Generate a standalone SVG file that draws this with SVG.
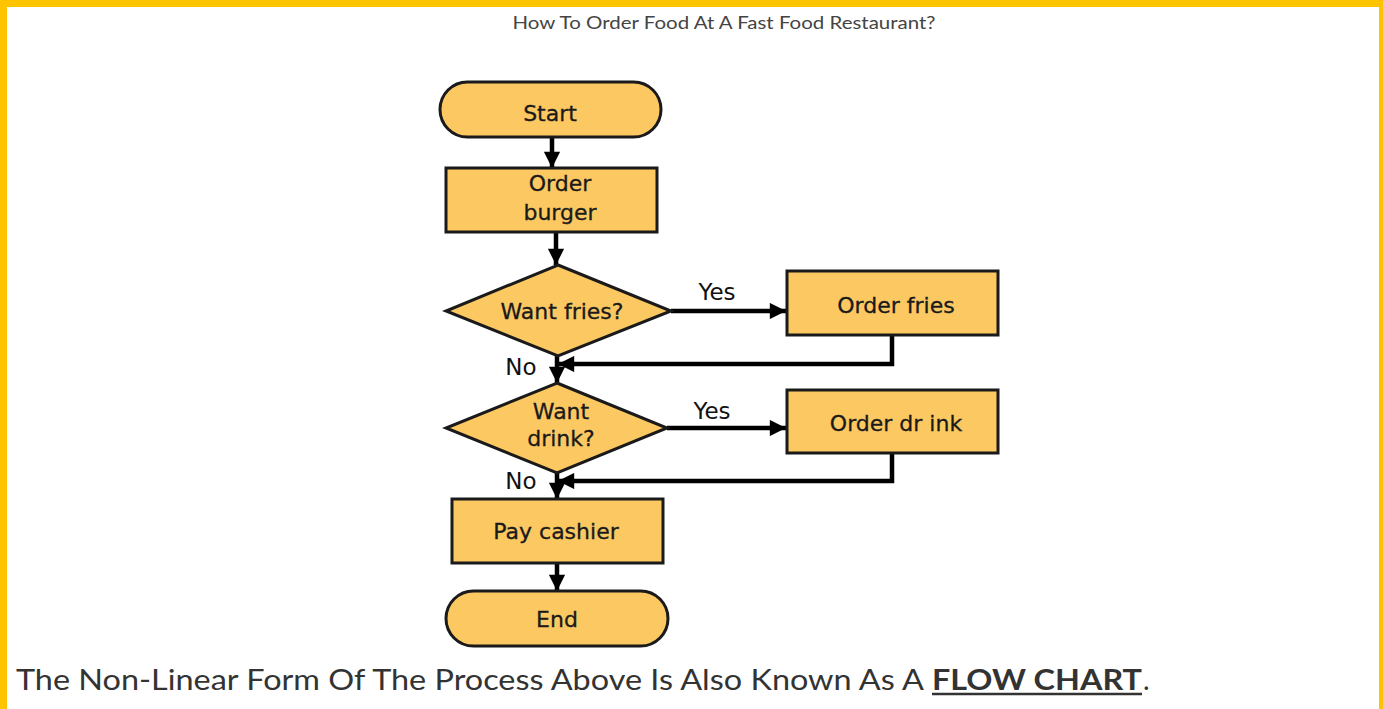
<svg xmlns="http://www.w3.org/2000/svg" width="1383" height="709" viewBox="0 0 1383 709">
<defs>
<style>
.n{fill:#FCC862;stroke:#1a1a1a;stroke-width:3}
.t{font-family:"DejaVu Sans",Verdana,sans-serif;font-size:22px;fill:#1a1a1a;text-anchor:middle;stroke:#1a1a1a;stroke-width:0.3}
.c{stroke:#000;stroke-width:4.5;fill:none}
.lbl{font-family:"DejaVu Sans",Verdana,sans-serif;font-size:23px;fill:#111}
</style>
<marker id="ah" viewBox="0 0 10 10" refX="10" refY="5" markerWidth="3.8" markerHeight="3.6" orient="auto" markerUnits="strokeWidth">
<path d="M0,0 L10,5 L0,10 Z" fill="#000"/>
</marker>
</defs>
<rect x="0" y="0" width="1383" height="709" fill="#fff"/>
<path d="M0,0 H1383 V709 H1379 V7 H7 V709 H0 Z" fill="#FFC400"/>
<text x="724" y="29" font-family="Lato,'Open Sans',sans-serif" font-size="18" fill="#444" text-anchor="middle" textLength="423" lengthAdjust="spacingAndGlyphs">How To Order Food At A Fast Food Restaurant?</text>

<g id="connectors">
<line class="c" x1="552" y1="137" x2="552" y2="168" marker-end="url(#ah)"/>
<line class="c" x1="556" y1="232" x2="556" y2="265" marker-end="url(#ah)"/>
<line class="c" x1="671" y1="311" x2="786" y2="311" marker-end="url(#ah)"/>
<polyline class="c" points="892,335 892,364 558,364" marker-end="url(#ah)"/>
<line class="c" x1="557" y1="356" x2="557" y2="383" marker-end="url(#ah)"/>
<line class="c" x1="667" y1="428" x2="786" y2="428" marker-end="url(#ah)"/>
<polyline class="c" points="892,453 892,481 558,481" marker-end="url(#ah)"/>
<line class="c" x1="557" y1="473" x2="557" y2="499" marker-end="url(#ah)"/>
<line class="c" x1="557" y1="563" x2="557" y2="591" marker-end="url(#ah)"/>
<text class="lbl" x="717" y="300" text-anchor="middle">Yes</text>
<text class="lbl" x="712" y="419" text-anchor="middle">Yes</text>
<text class="lbl" x="521" y="375" text-anchor="middle">No</text>
<text class="lbl" x="521" y="489" text-anchor="middle">No</text>
</g>

<g id="start">
<rect class="n" x="440" y="82" width="221" height="55" rx="27.5"/>
<text class="t" x="550" y="121">Start</text>
</g>
<g id="order-burger">
<rect class="n" x="446" y="168" width="211" height="64"/>
<text class="t" x="560" y="191">Order</text>
<text class="t" x="560" y="220">burger</text>
</g>
<g id="want-fries">
<polygon class="n" points="558,265 671,311 558,356 446,311"/>
<text class="t" x="562" y="319">Want fries?</text>
</g>
<g id="order-fries">
<rect class="n" x="787" y="271" width="211" height="64"/>
<text class="t" x="896" y="313">Order fries</text>
</g>
<g id="want-drink">
<polygon class="n" points="557,383 667,428 557,473 446,428"/>
<text class="t" x="561" y="419">Want</text>
<text class="t" x="561" y="446">drink?</text>
</g>
<g id="order-drink">
<rect class="n" x="787" y="390" width="211" height="63"/>
<text class="t" x="896" y="431">Order dr ink</text>
</g>
<g id="pay-cashier">
<rect class="n" x="452" y="499" width="211" height="64"/>
<text class="t" x="556" y="539">Pay cashier</text>
</g>
<g id="end">
<rect class="n" x="446" y="591" width="222" height="55" rx="27.5"/>
<text class="t" x="557" y="627">End</text>
</g>

<text x="16" y="690" font-family="Lato,'Open Sans',sans-serif" font-size="28" fill="#333" textLength="908" lengthAdjust="spacingAndGlyphs">The Non-Linear Form Of The Process Above Is Also Known As A</text>
<text x="932" y="690" font-family="Lato,'Open Sans',sans-serif" font-size="28" font-weight="bold" fill="#333" textLength="210" lengthAdjust="spacingAndGlyphs">FLOW CHART</text>
<line x1="932" y1="694" x2="1142" y2="694" stroke="#333" stroke-width="2.5"/>
<text x="1143" y="690" font-family="Lato,'Open Sans',sans-serif" font-size="28" fill="#333">.</text>
</svg>
